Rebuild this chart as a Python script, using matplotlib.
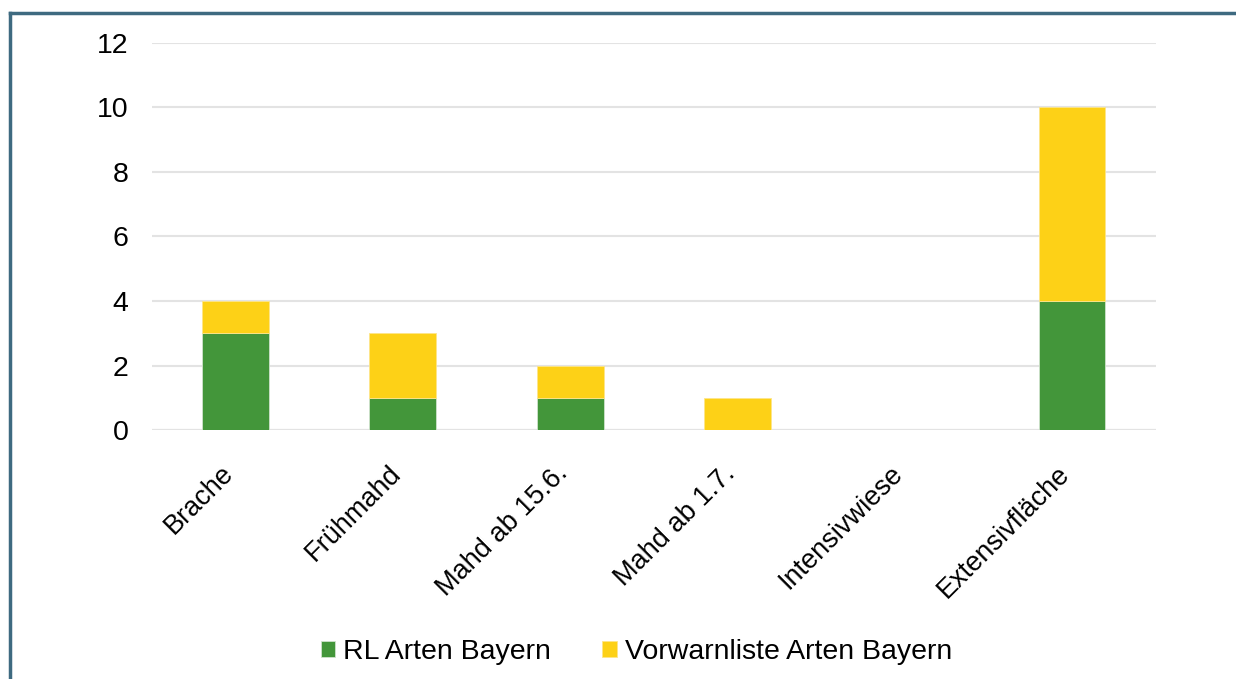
import matplotlib.pyplot as plt
from matplotlib.lines import Line2D
from matplotlib.transforms import ScaledTranslation

categories = ["Brache", "Frühmahd", "Mahd ab 15.6.", "Mahd ab 1.7.", "Intensivwiese", "Extensivfläche"]
rl_arten = [3, 1, 1, 0, 0, 4]
vorwarnliste = [1, 2, 1, 1, 0, 6]

green = "#43963A"
yellow = "#FDD117"

plt.rcParams['font.family'] = ['Liberation Sans', 'DejaVu Sans']

fig = plt.figure(figsize=(12.36, 6.79), dpi=100)
ax = fig.add_axes([0.123, 0.3667, 0.812, 0.57])

x = range(len(categories))
ax.bar(x, rl_arten, width=0.4, color=green, label="RL Arten Bayern",
       edgecolor="#cfe3cc", linewidth=0.6, zorder=3)
ax.bar(x, vorwarnliste, width=0.4, bottom=rl_arten, color=yellow,
       label="Vorwarnliste Arten Bayern", edgecolor="#fde58a", linewidth=0.6, zorder=3)

ax.set_xlim(-0.5, len(categories) - 0.5)
ax.set_ylim(0, 12)
ax.set_yticks(range(0, 13, 2))
ax.yaxis.grid(True, color="#e3e3e3", linewidth=1.5, zorder=0)
ax.set_axisbelow(True)
for s in ax.spines.values():
    s.set_visible(False)
ax.tick_params(axis='both', length=0, colors="#000000")
ax.tick_params(axis='y', pad=17, labelsize=20.5)
ax.set_xticks(list(x))
ax.set_xticklabels(categories, rotation=45, ha='right', va='top', rotation_mode='anchor',
                   fontsize=19.5)
ax.tick_params(axis='x', pad=14)
# move the rotated labels a little down-left, like the original
shift = ScaledTranslation(-0.15, -0.11, fig.dpi_scale_trans)
for lbl in ax.get_xticklabels():
    lbl.set_transform(lbl.get_transform() + shift)
# zero line
ax.axhline(0, color="#e3e3e3", linewidth=1.5, zorder=1)

leg = fig.legend(loc='center', bbox_to_anchor=(0.515, 0.04), ncol=2, frameon=False,
                 fontsize=20.5, handlelength=0.5, handleheight=0.5, handletextpad=0.28,
                 columnspacing=1.8)

# frame around the chart (top and left)
border = "#3E6A80"
fig.add_artist(Line2D([0.0077, 1.0], [1 - 13 / 679, 1 - 13 / 679], color=border, linewidth=2.5,
                      transform=fig.transFigure))
fig.add_artist(Line2D([0.0077, 0.0077], [0.0, 1 - 13 / 679], color=border, linewidth=2.5,
                      transform=fig.transFigure))

fig.savefig("out.png", dpi=100, facecolor="white")
